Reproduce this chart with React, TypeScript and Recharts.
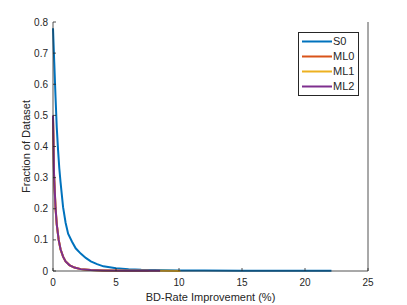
import React from "react";
import { LineChart, Line, XAxis, YAxis, Legend } from "recharts";

// Values
const S0_X = [0, 0.1, 0.2, 0.3, 0.4, 0.5, 0.6, 0.8, 1.0, 1.2, 1.5, 1.8, 2.2, 2.6, 3, 3.5, 4, 5, 6, 7, 8, 10, 12, 15, 18, 22.1];
const S0_Y = [0.78, 0.67, 0.56, 0.46, 0.39, 0.33, 0.285, 0.205, 0.155, 0.12, 0.095, 0.073, 0.056, 0.042, 0.031, 0.022, 0.015, 0.009, 0.006, 0.004, 0.003, 0.002, 0.0015, 0.001, 0.0008, 0.0005];

const ML0_X = [0, 0.04, 0.08, 0.15, 0.2, 0.3, 0.45, 0.6, 0.8, 1.0, 1.3, 1.7, 2.2, 3, 4, 6, 7.6];
const ML0_Y = [0.49, 0.41, 0.31, 0.245, 0.2, 0.148, 0.1, 0.069, 0.046, 0.031, 0.019, 0.011, 0.006, 0.003, 0.0018, 0.001, 0.0005];

const ML1_X = [0, 0.04, 0.08, 0.15, 0.2, 0.3, 0.45, 0.6, 0.8, 1.0, 1.3, 1.7, 2.2, 3, 4, 6, 8.5, 10.1];
const ML1_Y = [0.49, 0.415, 0.31, 0.25, 0.205, 0.15, 0.1, 0.069, 0.046, 0.031, 0.019, 0.011, 0.006, 0.003, 0.0018, 0.001, 0.0006, 0.0004];

const ML2_X = [0, 0.04, 0.08, 0.15, 0.2, 0.3, 0.45, 0.6, 0.8, 1.0, 1.3, 1.7, 2.2, 3, 4, 6, 8.5];
const ML2_Y = [0.5, 0.42, 0.315, 0.25, 0.205, 0.15, 0.1, 0.07, 0.046, 0.031, 0.019, 0.011, 0.006, 0.003, 0.0018, 0.001, 0.0005];

const X_TICKS = [0, 5, 10, 15, 20, 25];
const Y_TICKS = [0, 0.1, 0.2, 0.3, 0.4, 0.5, 0.6, 0.7, 0.8];

const SERIES_NAMES = ["S0", "ML0", "ML1", "ML2"];
const SERIES_COLORS = ["#0072BD", "#D95319", "#EDB120", "#7E2F8E"];

const zip = (xs: number[], ys: number[]) => xs.map((x, i) => ({ x, y: ys[i] }));
const SERIES_DATA = [zip(S0_X, S0_Y), zip(ML0_X, ML0_Y), zip(ML1_X, ML1_Y), zip(ML2_X, ML2_Y)];

const AX = "#262626";
const FONT = "'Liberation Sans', Arial, sans-serif";
const TL = 3; // inward tick length

const BottomTick = ({ x, y, payload }: any) => (
  <g>
    <line x1={x} y1={y} x2={x} y2={y - TL} stroke={AX} strokeWidth={0.8} />
    <text x={x} y={y + 15} textAnchor="middle" fontSize={10} fill={AX} fontFamily={FONT}>{payload.value}</text>
  </g>
);
const TopTick = ({ x, y }: any) => <line x1={x} y1={y} x2={x} y2={y + TL} stroke={AX} strokeWidth={0.8} />;
const LeftTick = ({ x, y, payload }: any) => (
  <g>
    <line x1={x} y1={y} x2={x + TL} y2={y} stroke={AX} strokeWidth={0.8} />
    <text x={x - 5} y={y + 3.5} textAnchor="end" fontSize={10} fill={AX} fontFamily={FONT}>{payload.value}</text>
  </g>
);
const RightTick = ({ x, y }: any) => <line x1={x} y1={y} x2={x - TL} y2={y} stroke={AX} strokeWidth={0.8} />;

const LegendBox = () => (
  <div style={{ width: 59, height: 61, border: `1px solid ${AX}`, background: "#fff", boxSizing: "content-box", paddingTop: 1 }}>
    {SERIES_NAMES.map((name, i) => (
      <div key={name} style={{ display: "flex", alignItems: "center", height: 15 }}>
        <svg width={34} height={15}>
          <line x1={3} x2={33} y1={7.5} y2={7.5} stroke={SERIES_COLORS[i]} strokeWidth={2} />
        </svg>
        <span style={{ fontSize: 11, fontFamily: FONT, color: AX, lineHeight: "15px" }}>{name}</span>
      </div>
    ))}
  </div>
);

const App: React.FC = () => (
  <div style={{ position: "absolute", left: 0, top: 0, width: 407, height: 305, background: "#fff" }}>
    <LineChart width={407} height={305} margin={{ top: 22, right: 0, bottom: 0, left: 0 }}>
      <XAxis
        xAxisId="main"
        type="number"
        dataKey="x"
        domain={[0, 25]}
        ticks={X_TICKS}
        height={34}
        tickSize={0}
        tickMargin={0}
        tickLine={false}
        tick={<BottomTick />}
        axisLine={{ stroke: AX, strokeWidth: 0.8 }}
        label={{ value: "BD-Rate Improvement (%)", position: "insideBottom", offset: 4, fontSize: 11, fill: AX, fontFamily: FONT }}
      />
      <XAxis
        xAxisId="top"
        orientation="top"
        type="number"
        dataKey="x"
        domain={[0, 25]}
        ticks={X_TICKS}
        height={0}
        tickSize={0}
        tickMargin={0}
        tickLine={false}
        tick={<TopTick />}
        axisLine={{ stroke: AX, strokeWidth: 0.8 }}
      />
      <YAxis
        yAxisId="main"
        type="number"
        domain={[0, 0.8]}
        ticks={Y_TICKS}
        width={53}
        tickSize={0}
        tickMargin={0}
        tickLine={false}
        tick={<LeftTick />}
        axisLine={{ stroke: AX, strokeWidth: 0.8 }}
        label={{ value: "Fraction of Dataset", angle: -90, position: "center", fontSize: 11, fill: AX, fontFamily: FONT }}
      />
      <YAxis
        yAxisId="right"
        orientation="right"
        type="number"
        domain={[0, 0.8]}
        ticks={Y_TICKS}
        width={39}
        tickSize={0}
        tickMargin={0}
        tickLine={false}
        tick={<RightTick />}
        axisLine={{ stroke: AX, strokeWidth: 0.8 }}
      />
      <Legend
        layout="vertical"
        align="center"
        verticalAlign="middle"
        wrapperStyle={{ left: 298, top: 32, width: 62 }}
        content={<LegendBox />}
      />
      {SERIES_NAMES.map((name, i) => (
        <Line
          key={name}
          name={name}
          xAxisId="main"
          yAxisId="main"
          data={SERIES_DATA[i]}
          dataKey="y"
          type="linear"
          stroke={SERIES_COLORS[i]}
          strokeWidth={2}
          dot={false}
          isAnimationActive={false}
        />
      ))}
    </LineChart>
  </div>
);

export default App;
